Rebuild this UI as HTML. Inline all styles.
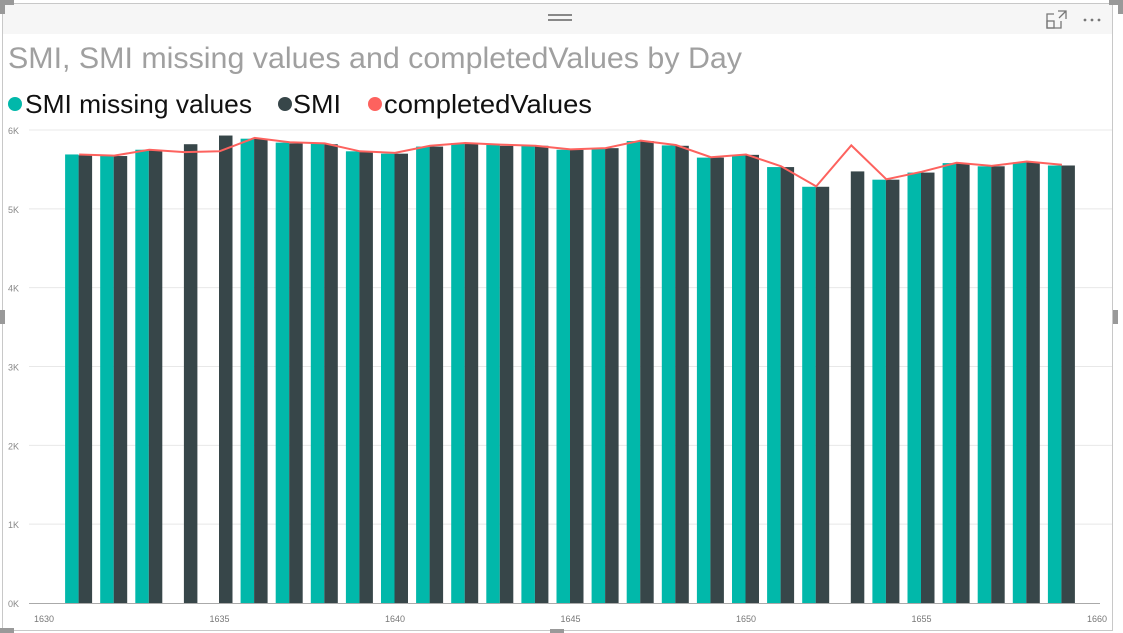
<!DOCTYPE html>
<html><head><meta charset="utf-8"><style>
html,body{margin:0;padding:0;background:#fff;}
svg{display:block;font-family:"Liberation Sans",sans-serif;}
</style></head><body>
<svg id="chart" width="1123" height="633" viewBox="0 0 1123 633">
  <rect x="0" y="0" width="1123" height="633" fill="#fff"/>
  <rect x="3" y="3" width="1110" height="31" fill="#f6f6f6"/>
  <rect x="2.5" y="3.5" width="1110" height="627" fill="none" stroke="#c8c8c8"/>
  <rect x="0" y="0" width="14" height="5" fill="#999"/>
  <rect x="0" y="0" width="5" height="14" fill="#999"/>
  <rect x="1109" y="0" width="14" height="5" fill="#999"/>
  <rect x="1118" y="0" width="5" height="14" fill="#999"/>
  <rect x="0" y="310" width="5" height="14" fill="#999"/>
  <rect x="1113" y="310" width="5" height="14" fill="#999"/>
  <rect x="0" y="628" width="14" height="5" fill="#999"/>
  <rect x="550" y="629" width="14" height="4" fill="#999"/>
  <g><rect x="548" y="14" width="24" height="2" fill="#888"/><rect x="548" y="19" width="24" height="2" fill="#888"/></g>
  <g fill="none" stroke="#777" stroke-width="1.3">
    <path d="M1054 14h-7v14h14v-7"/><rect x="1047" y="21" width="7" height="7"/><path d="M1058 11h8v8M1066 11l-7 7"/>
  </g>
  <g fill="#777"><circle cx="1085" cy="20" r="1.4"/><circle cx="1092" cy="20" r="1.4"/><circle cx="1099" cy="20" r="1.4"/></g>
  <text x="8" y="68" font-size="30" fill="#a0a0a0" textLength="734" lengthAdjust="spacingAndGlyphs">SMI, SMI missing values and completedValues by Day</text>
  <g>
    <g><circle cx="15" cy="104" r="7" fill="#01b8aa"/><text x="25" y="113" font-size="26" fill="#111" textLength="227" lengthAdjust="spacingAndGlyphs">SMI missing values</text></g>
    <g><circle cx="285" cy="104" r="7" fill="#374649"/><text x="293" y="113" font-size="26" fill="#111" textLength="48" lengthAdjust="spacingAndGlyphs">SMI</text></g>
    <g><circle cx="375" cy="104" r="7" fill="#fd625e"/><text x="384" y="113" font-size="26" fill="#111" textLength="208" lengthAdjust="spacingAndGlyphs">completedValues</text></g>
  </g>
  <g id="grid"></g><g id="bars"></g><g id="line"></g><g id="axes"></g>
</svg>
<script>
const days = [1631,1632,1633,1634,1635,1636,1637,1638,1639,1640,1641,1642,1643,1644,1645,1646,1647,1648,1649,1650,1651,1652,1653,1654,1655,1656,1657,1658,1659];
const smiMissing = [5.69,5.675,5.75,null,null,5.89,5.84,5.83,5.73,5.70,5.79,5.835,5.81,5.80,5.75,5.76,5.86,5.805,5.65,5.68,5.53,5.28,null,5.37,5.46,5.58,5.54,5.59,5.55];
const smi = [5.68,5.67,5.74,5.82,5.93,5.89,5.83,5.82,5.72,5.70,5.79,5.83,5.80,5.80,5.75,5.77,5.86,5.80,5.65,5.685,5.53,5.28,5.475,5.37,5.46,5.58,5.54,5.59,5.55];
const completed = [5.69,5.675,5.75,5.72,5.73,5.90,5.845,5.83,5.73,5.71,5.80,5.835,5.815,5.80,5.755,5.77,5.865,5.81,5.655,5.69,5.54,5.285,5.805,5.375,5.47,5.585,5.545,5.60,5.56];
const yTicks = [0,1,2,3,4,5,6];
const yTickLabels = ["0K","1K","2K","3K","4K","5K","6K"];
const xTicks = [1630,1635,1640,1645,1650,1655,1660];

const NS="http://www.w3.org/2000/svg";
const X = d => 44 + (d-1630)*35.1;
const Y = v => 603 - v*78.83;
function mk(tag, parent, attrs){const e=document.createElementNS(NS,tag);for(const k in attrs)e.setAttribute(k,attrs[k]);document.getElementById(parent).appendChild(e);return e;}

yTicks.forEach((t,i)=>{
  if(t>0){const g=mk('line','grid',{x1:29,x2:1112,y1:Y(t),y2:Y(t),stroke:'#e8e8e8','stroke-width':1});
  
  }
  const l=mk('text','axes',{x:8,y:Y(t)+4,'font-size':9,fill:'#888'});
  l.textContent=yTickLabels[i];
  
  
});
const base=mk('line','axes',{x1:29,x2:1100,y1:603.5,y2:603.5,stroke:'#aaa','stroke-width':1});


xTicks.forEach(t=>{
  const l=mk('text','axes',{x:X(t),y:622,'font-size':9,fill:'#777','text-anchor':'middle'});
  l.textContent=t;
  
  
});
days.forEach((d,i)=>{
  const cx=X(d);
  if(smiMissing[i]!=null){
    const b=mk('rect','bars',{x:cx-14,y:Y(smiMissing[i]),width:13.5,height:603-Y(smiMissing[i]),fill:'#01b8aa'});
    
    
  }
  const b2=mk('rect','bars',{x:cx-0.5,y:Y(smi[i]),width:13.5,height:603-Y(smi[i]),fill:'#374649'});
  
  
});
const pl=mk('polyline','line',{points:days.map((d,i)=>X(d)+','+Y(completed[i])).join(' '),fill:'none',stroke:'#fd625e','stroke-width':2});


</script>
</body></html>
